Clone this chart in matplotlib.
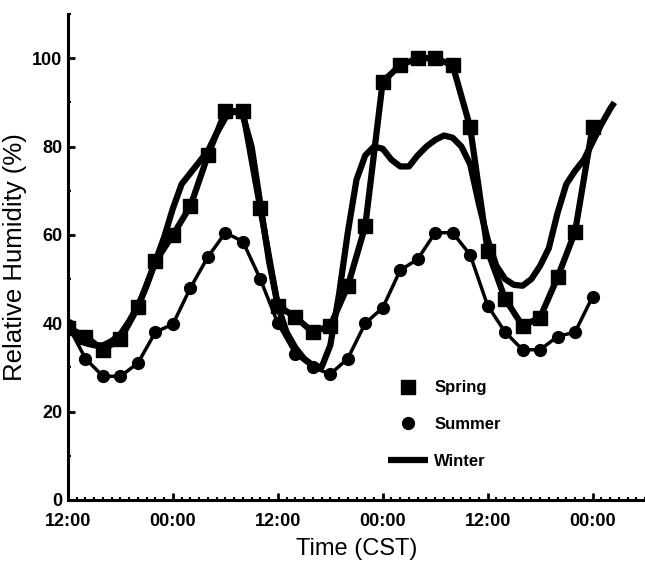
import matplotlib
matplotlib.use("Agg")
import matplotlib.pyplot as plt
from matplotlib.ticker import MultipleLocator
import numpy as np

# hours after 12:00 CST on the first day
hours = list(range(0, 61, 2))

spring = [39, 37, 34, 36.4, 43.6, 54, 60, 66.5, 78, 88, 88, 66,
          44, 41.4, 38, 39.4, 48.4, 62, 94.7, 98.4, 100, 100, 98.4, 84.4,
          56.4, 45.5, 39.4, 41.3, 50.4, 60.7, 84.4]

summer = [39.5, 32, 28, 28, 31, 38, 39.8, 48, 55, 60.5, 58.5, 50,
          40, 33, 30, 28.5, 32, 40, 43.5, 52, 54.5, 60.5, 60.5, 55.5,
          44, 38, 34, 34, 37, 38, 46]

winter_hours = [0, 1, 2, 3, 4, 5, 6, 7, 8, 9, 10, 11, 12, 13, 14, 15, 16, 17, 18, 19,
                20, 21, 22, 23, 24, 25, 26, 27, 28, 29, 30, 31, 32, 33, 34, 35, 36,
                37, 38, 39, 40, 41, 42, 43, 44, 45, 46, 47, 48, 49, 50, 51, 52, 53,
                54, 55, 56, 57, 58, 59, 60, 61, 62, 62.5]
winter = [39.5, 37, 35.5, 35, 35, 36, 37.5, 40.5, 44, 48.5, 54, 59.5, 66, 71.5, 74, 76.5,
          79, 83, 86.5, 88, 87, 80, 67, 54, 44, 38, 34.5, 32, 30.5, 30, 35, 46.5,
          60.5, 72.5, 78, 80, 79.5, 77, 75.5, 75.5, 78, 80, 81.5, 82.5, 82, 80,
          76, 67, 59, 53, 50, 48.7, 48.5, 50, 53, 57, 65, 71.5, 74.5, 77, 81, 85,
          88.5, 90]

xtick_labels = ["12:00", "00:00", "12:00", "00:00", "12:00", "00:00"]

font = ["Liberation Sans", "DejaVu Sans"]

fig = plt.figure(figsize=(6.45, 5.69), dpi=100)
ax = fig.add_axes([68 / 645, 69 / 569, 577 / 645, 486 / 569])

ax.plot(winter_hours, winter, color="black", lw=4.5, solid_capstyle="butt",
        solid_joinstyle="round", label="Winter")
ax.plot(hours, spring, color="black", lw=4.5, marker="s", markersize=10,
        solid_joinstyle="round", label="Spring")
ax.plot(hours, summer, color="black", lw=2.5, marker="o", markersize=8.5,
        label="Summer")

ax.set_xlim(0, 66)
ax.set_ylim(0, 110)

ax.spines["top"].set_visible(False)
ax.spines["right"].set_visible(False)
ax.spines["left"].set_linewidth(2.2)
ax.spines["bottom"].set_linewidth(2.2)

ax.set_xticks(np.arange(0, 61, 12))
ax.set_xticklabels(xtick_labels)
ax.xaxis.set_minor_locator(MultipleLocator(1))
ax.set_yticks(np.arange(0, 101, 20))
ax.yaxis.set_minor_locator(MultipleLocator(10))

ax.tick_params(axis="both", which="major", direction="in", length=5, width=2)
ax.tick_params(axis="x", which="major", pad=9)
ax.tick_params(axis="y", which="major", pad=4)
ax.tick_params(axis="both", which="minor", direction="in", length=2.5, width=1.5)
for lab in ax.get_xticklabels() + ax.get_yticklabels():
    lab.set_family(font)
    lab.set_fontweight("bold")
    lab.set_fontsize(13)

ax.set_xlabel("Time (CST)", family=font, fontsize=17, labelpad=6)
ax.set_ylabel("Relative Humidity (%)", family=font, fontsize=18.5, labelpad=4)

handles, labels = ax.get_legend_handles_labels()
order = [1, 2, 0]
leg = ax.legend([handles[i] for i in order], [labels[i] for i in order],
                loc="upper left", bbox_to_anchor=(0.555, 0.246), frameon=False,
                borderpad=0, borderaxespad=0, handlelength=2.4, handletextpad=0.35,
                labelspacing=1.3, prop={"family": font, "weight": "bold", "size": 12})
for h in leg.legend_handles[:2]:
    h.set_linestyle("none")

fig.savefig("out.png", dpi=100)
